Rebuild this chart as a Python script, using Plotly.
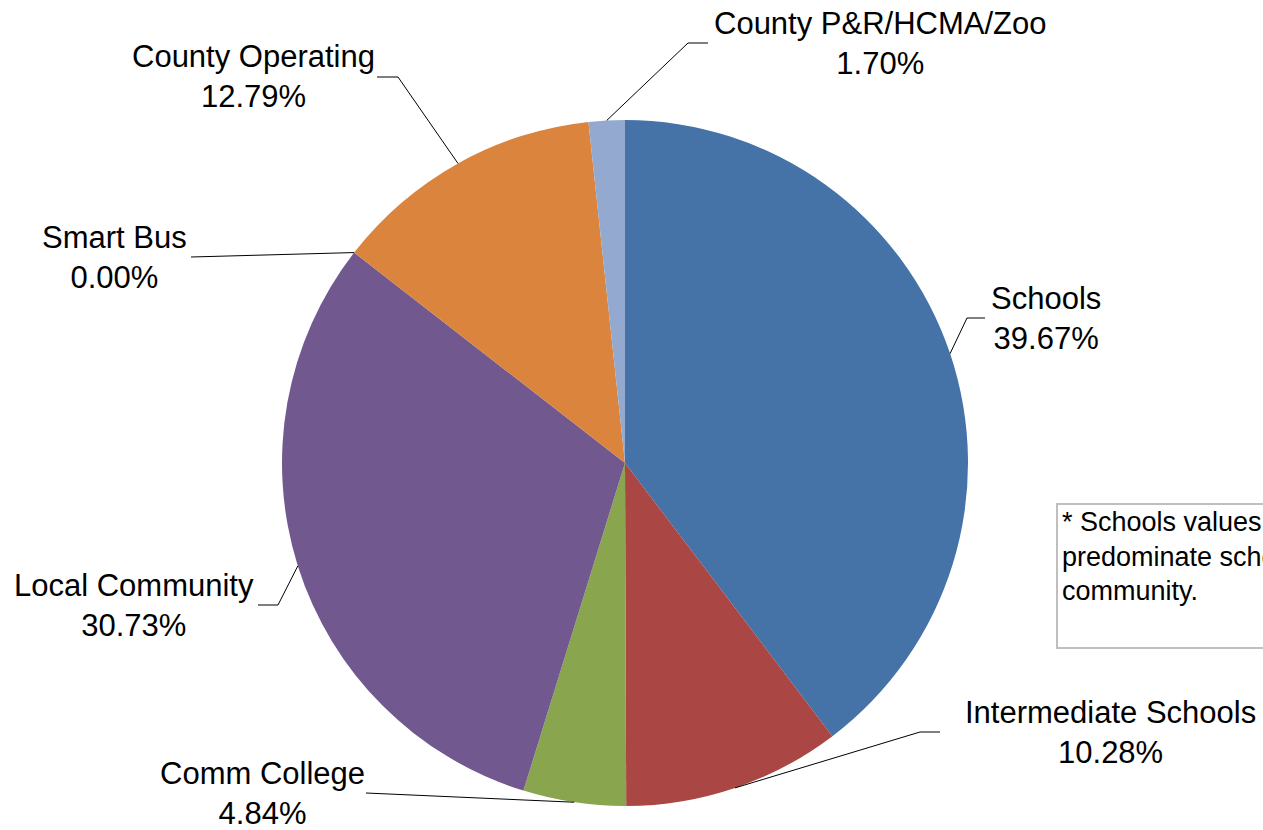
"""
Property tax distribution pie with outside labels and leader lines.
"""
import math

import plotly.graph_objects as go

# data
labels = [
    "Schools",
    "Intermediate Schools",
    "Comm College",
    "Local Community",
    "Smart Bus",
    "County Operating",
    "County P&R/HCMA/Zoo",
]
values = [39.67, 10.28, 4.84, 30.73, 0.00, 12.79, 1.70]
colors = ["#4572A7", "#AA4643", "#89A54E", "#71588F", "#4198AF", "#DB843D", "#93A9CF"]

note_lines = [
    "* Schools values are based on the",
    "predominate school district in the",
    "community.",
]

# layout, in page pixels
W, H = 1263, 830
CX, CY, R = 625, 463, 343
label_pos = [(1046, 318), (1110, 732), (262, 793), (134, 605), (114, 257), (253, 77), (880, 43)]
elbows = [(967, 318), (920, 732), (366, 793), (278, 605), (191, 257), (398, 77), (688, 43)]
ends = [(985, 318), (940, 732), (366, 793), (258, 605), (191, 257), (377, 77), (708, 43)]


def px(x):
    return x / W


def py(y):
    return 1 - y / H


fig = go.Figure(go.Pie(
    labels=labels,
    values=values,
    sort=False,
    direction="clockwise",
    rotation=0,
    marker=dict(colors=colors, line=dict(width=0)),
    textinfo="none",
    hoverinfo="label+percent",
    showlegend=False,
    domain=dict(x=[px(CX - R), px(CX + R)], y=[py(CY + R), py(CY - R)]),
))

# leader lines start on the rim at the middle angle of each slice
total = sum(values)
cum = 0.0
for i, v in enumerate(values):
    ang = math.radians((cum + v / 2) / total * 360)
    cum += v
    sx = CX + R * math.sin(ang)
    sy = CY - R * math.cos(ang)
    (ex, ey), (fx, fy) = elbows[i], ends[i]
    fig.add_shape(
        type="path",
        xref="paper", yref="paper",
        path=f"M {px(sx)},{py(sy)} L {px(ex)},{py(ey)} L {px(fx)},{py(fy)}",
        line=dict(color="black", width=1),
    )
    lx, ly = label_pos[i]
    fig.add_annotation(
        x=px(lx), y=py(ly), xref="paper", yref="paper",
        text=f"{labels[i]}<br>{v:.2f}%",
        showarrow=False, align="center",
        xanchor="center", yanchor="middle",
        font=dict(size=31, color="black"),
    )

# note box on the right, cut off by the page edge
fig.add_shape(
    type="rect", xref="paper", yref="paper",
    x0=px(1057), x1=px(1500), y0=py(648), y1=py(504),
    line=dict(color="#BFBFBF", width=2),
)
for k, t in enumerate(note_lines):
    fig.add_annotation(
        x=px(1060), y=py(522 + 34.5 * k), xref="paper", yref="paper",
        text=t, showarrow=False,
        xanchor="left", yanchor="middle",
        font=dict(size=27, color="black"),
    )

fig.update_layout(
    width=W, height=H,
    margin=dict(l=0, r=0, t=0, b=0),
    paper_bgcolor="white",
    plot_bgcolor="white",
    font=dict(family="Liberation Sans, Arial, sans-serif", color="black"),
)

# drop the default body margin so the figure fills the window exactly
fig.write_html(
    "out.html",
    config=dict(displayModeBar=False),
    post_script="document.body.style.margin='0';document.body.style.overflow='hidden';",
)
